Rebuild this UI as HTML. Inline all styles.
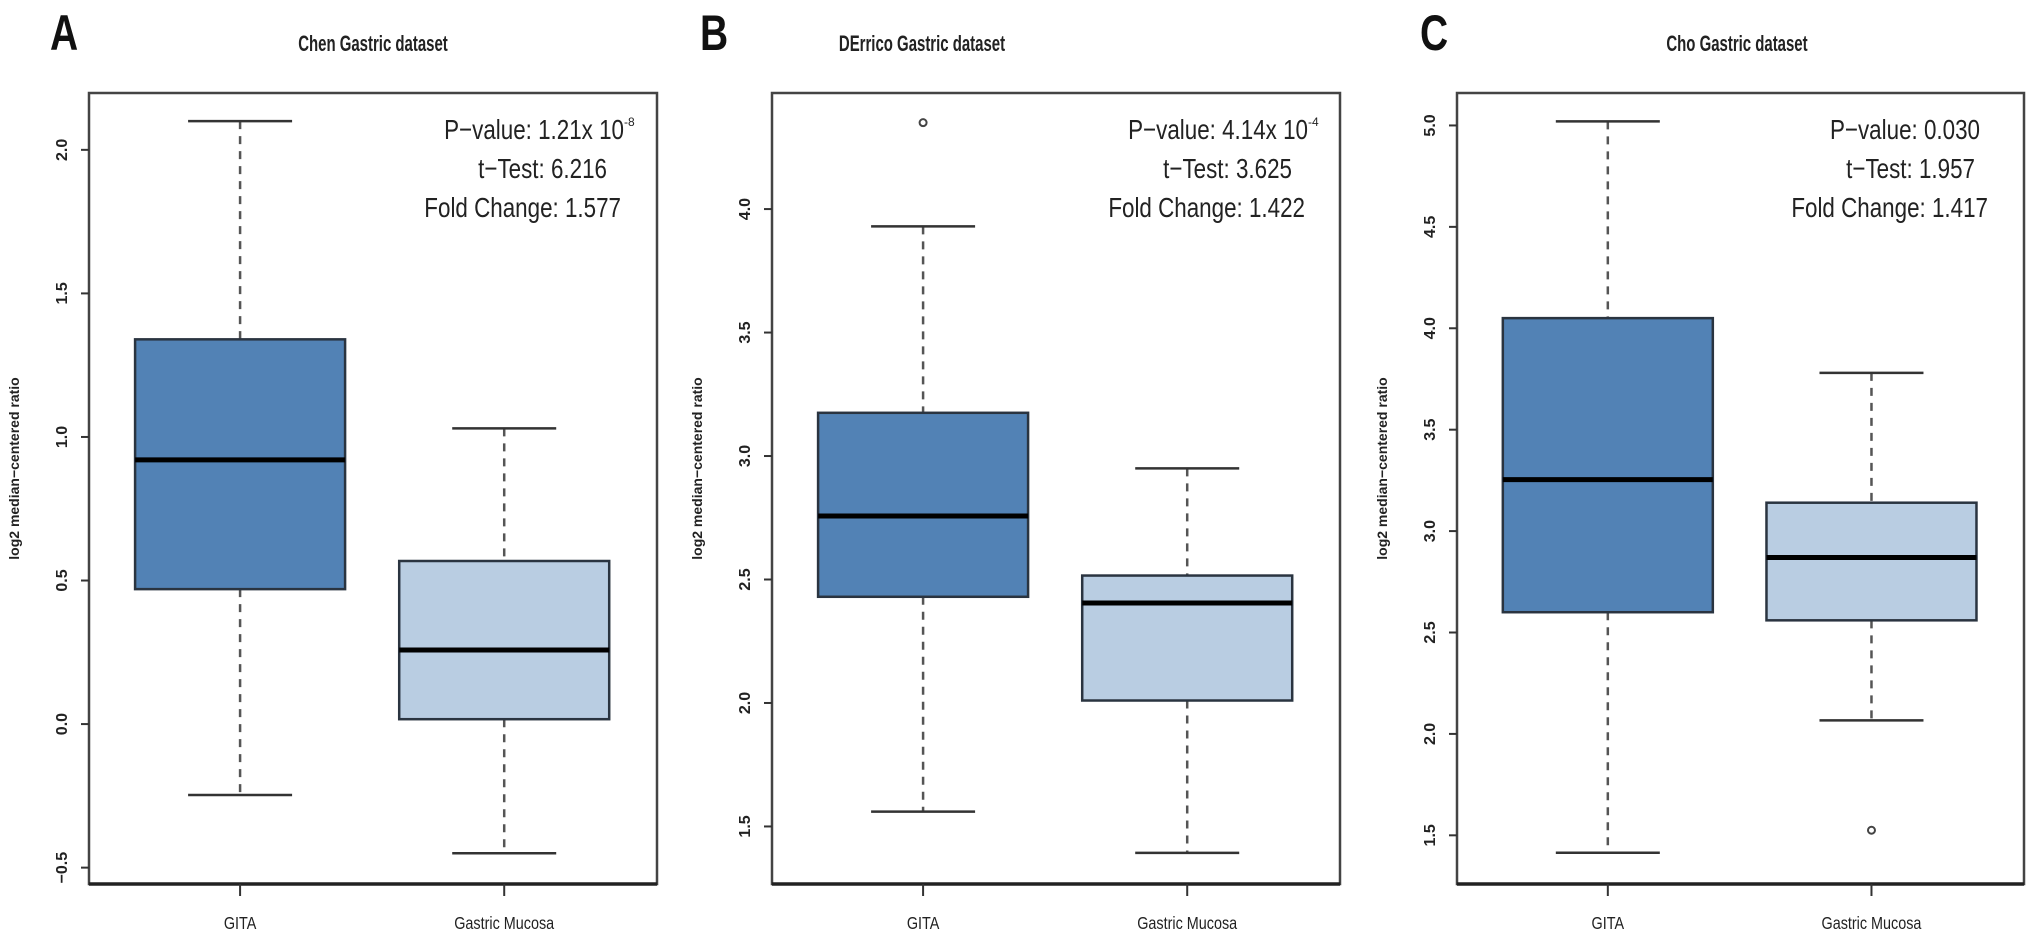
<!DOCTYPE html>
<html><head><meta charset="utf-8"><style>
html,body{margin:0;padding:0;background:#fff;}
svg{display:block;font-family:"Liberation Sans",Arial,sans-serif;}
</style></head><body>
<svg id="chart" width="2031" height="941" viewBox="0 0 2031 941" xmlns="http://www.w3.org/2000/svg"></svg>
<script>
// ---- data ----
const panelLetters = ["A","B","C"];
const panelTitles = ["Chen Gastric dataset","DErrico Gastric dataset","Cho Gastric dataset"];
const categories = ["GITA","Gastric Mucosa"];
// [lowerWhisker, Q1, median, Q3, upperWhisker]
const chenGITA = [-0.247, 0.47, 0.92, 1.34, 2.10];
const chenMucosa = [-0.45, 0.017, 0.258, 0.568, 1.03];
const derricoGITA = [1.56, 2.43, 2.757, 3.175, 3.93];
const derricoMucosa = [1.393, 2.01, 2.405, 2.516, 2.95];
const choGITA = [1.414, 2.60, 3.254, 4.05, 5.02];
const choMucosa = [2.067, 2.56, 2.87, 3.14, 3.78];
const derricoOutliersGITA = [4.35];
const choOutliersMucosa = [1.525];
const chenTicks = [-0.5, 0.0, 0.5, 1.0, 1.5, 2.0];
const derricoTicks = [1.5, 2.0, 2.5, 3.0, 3.5, 4.0];
const choTicks = [1.5, 2.0, 2.5, 3.0, 3.5, 4.0, 4.5, 5.0];
const statsP = ["P\u2212value: 1.21x 10", "P\u2212value: 4.14x 10", "P\u2212value: 0.030"];
const statsExp = ["-8", "-4", ""];
const statsT = ["t\u2212Test: 6.216", "t\u2212Test: 3.625", "t\u2212Test: 1.957"];
const statsFC = ["Fold Change: 1.577", "Fold Change: 1.422", "Fold Change: 1.417"];

// ---- layout ----
const svg = document.getElementById('chart');
const NS = "http://www.w3.org/2000/svg";
const frameTop = 93, frameBot = 884;
const panels = [
  {x0:89, x1:657, yMin:-0.557, yMax:2.198, ticks:chenTicks, boxes:[chenGITA, chenMucosa], outl:[[],[]], letterX:50, titleX:373,
   pEnd:632, tEnd:607, fEnd:621},
  {x0:772, x1:1340, yMin:1.267, yMax:4.47, ticks:derricoTicks, boxes:[derricoGITA, derricoMucosa], outl:[derricoOutliersGITA,[]], letterX:700, titleX:922,
   pEnd:1316, tEnd:1292, fEnd:1305},
  {x0:1457, x1:2024, yMin:1.26, yMax:5.16, ticks:choTicks, boxes:[choGITA, choMucosa], outl:[[],choOutliersMucosa], letterX:1420, titleX:1737,
   pEnd:1980, tEnd:1975, fEnd:1988}
];
const fills = ["#5282b5", "#b9cde2"];
function el(tag, attrs, parent){
  const e = document.createElementNS(NS, tag);
  for (const k in attrs) e.setAttribute(k, attrs[k]);
  (parent||svg).appendChild(e);
  return e;
}
panels.forEach((p, i) => {
  const g = el('g', {});
  
  
  const yS = v => frameBot - (v - p.yMin) / (p.yMax - p.yMin) * (frameBot - frameTop);
  const w = p.x1 - p.x0;
  const xS = k => p.x0 + (k === 0 ? 0.266 : 0.731) * w;

  const letter = el('text', {x:p.letterX, y:50, 'font-size':50, 'font-weight':'bold', fill:'#111', transform:`translate(${p.letterX},0) scale(0.78,1) translate(${-p.letterX},0)`}, g);
  letter.textContent = panelLetters[i];
  
  

  const title = el('text', {x:p.titleX, y:51, 'font-size':22, 'font-weight':'bold', 'text-anchor':'middle', fill:'#222', transform:`translate(${p.titleX},0) scale(0.68,1) translate(${-p.titleX},0)`}, g);
  title.textContent = panelTitles[i];
  
  

  // boxes
  p.boxes.forEach((b, k) => {
    const cx = xS(k), hw = 105, cap = 52;
    const bg = el('g', {}, g);
    
    
    el('line', {x1:cx, x2:cx, y1:yS(b[4]), y2:yS(b[3]), stroke:'#555', 'stroke-width':2.5, 'stroke-dasharray':'8,7'}, bg);
    el('line', {x1:cx, x2:cx, y1:yS(b[1]), y2:yS(b[0]), stroke:'#555', 'stroke-width':2.5, 'stroke-dasharray':'8,7'}, bg);
    el('line', {x1:cx-cap, x2:cx+cap, y1:yS(b[4]), y2:yS(b[4]), stroke:'#333', 'stroke-width':2.5}, bg);
    el('line', {x1:cx-cap, x2:cx+cap, y1:yS(b[0]), y2:yS(b[0]), stroke:'#333', 'stroke-width':2.5}, bg);
    el('rect', {x:cx-hw, y:yS(b[3]), width:2*hw, height:yS(b[1]) - yS(b[3]), fill:fills[k], stroke:'#2a3440', 'stroke-width':2.5}, bg);
    el('line', {x1:cx-hw, x2:cx+hw, y1:yS(b[2]), y2:yS(b[2]), stroke:'#000', 'stroke-width':5}, bg);
    p.outl[k].forEach(o => {
      const c = el('circle', {cx:cx, cy:yS(o), r:3.5, fill:'none', stroke:'#444', 'stroke-width':2}, bg);
      
      
    });
  });

  // frame
  const fr = el('rect', {x:p.x0, y:frameTop, width:w, height:frameBot-frameTop, fill:'none', stroke:'#444', 'stroke-width':2.5}, g);
  
  
  el('line', {x1:p.x0, x2:p.x1, y1:frameBot, y2:frameBot, stroke:'#222', 'stroke-width':3.5}, g);

  // y ticks
  p.ticks.forEach(t => {
    const y = yS(t);
    el('line', {x1:p.x0-8, x2:p.x0, y1:y, y2:y, stroke:'#333', 'stroke-width':2}, g);
    const lx = p.x0 - 22;
    const tl = el('text', {x:lx, y:y, 'font-size':16, 'font-weight':'bold', 'text-anchor':'middle', fill:'#222', transform:`rotate(-90 ${lx} ${y})`}, g);
    tl.textContent = t.toFixed(1).replace('-', '\u2212');
    
    
  });
  const yl = p.x0 - 70, ym = (frameTop + frameBot) / 2 - 20;
  const ylab = el('text', {x:yl, y:ym, 'font-size':14, 'font-weight':'bold', 'text-anchor':'middle', fill:'#222', transform:`rotate(-90 ${yl} ${ym})`}, g);
  ylab.textContent = 'log2 median\u2212centered ratio';
  
  

  // x ticks
  categories.forEach((c, k) => {
    const cx = xS(k);
    el('line', {x1:cx, x2:cx, y1:frameBot, y2:frameBot+12, stroke:'#333', 'stroke-width':2}, g);
    const xl = el('text', {x:cx, y:929, 'font-size':18, 'text-anchor':'middle', fill:'#222', transform:`translate(${cx},0) scale(0.8,1) translate(${-cx},0)`}, g);
    xl.textContent = c;
    
    
  });

  // stats annotation
  const pt = el('text', {x:p.pEnd - (statsExp[i] ? 8 : 0), y:139, 'font-size':28, 'text-anchor':'end', fill:'#222'}, g);
  pt.textContent = statsP[i];
  
  
  if (statsExp[i]) {
    const ex = el('text', {x:p.pEnd - 8, y:126, 'font-size':12, fill:'#222'}, g);
    ex.textContent = statsExp[i];
    
    
  }
  const tt = el('text', {x:p.tEnd, y:178, 'font-size':28, 'text-anchor':'end', fill:'#222'}, g);
  tt.textContent = statsT[i];
  
  
  const ft = el('text', {x:p.fEnd, y:217, 'font-size':28, 'text-anchor':'end', fill:'#222'}, g);
  ft.textContent = statsFC[i];
  
  
  [pt, tt, ft].forEach(t => {
    const x = parseFloat(t.getAttribute('x'));
    t.setAttribute('transform', `translate(${x},0) scale(0.8,1) translate(${-x},0)`);
  });
});
</script>
</body></html>
